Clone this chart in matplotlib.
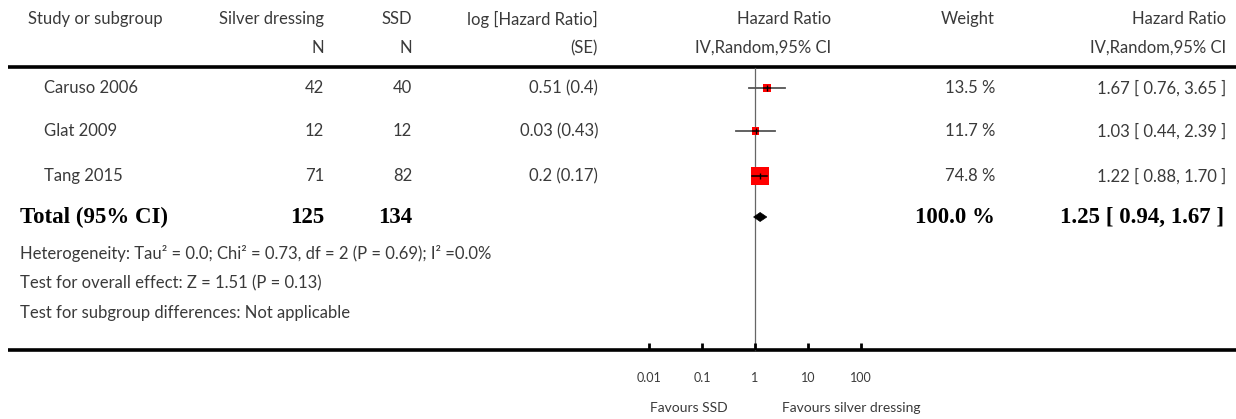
import numpy as np
import matplotlib as mpl
mpl.use("Agg")
import matplotlib.pyplot as plt
import matplotlib.transforms as mtransforms
from matplotlib.patches import Rectangle, Polygon

# data
studies = ["Caruso 2006", "Glat 2009", "Tang 2015"]
n_silver = [42, 12, 71]
n_ssd = [40, 12, 82]
log_hr = ["0.51", "0.03", "0.2"]
log_se = ["0.4", "0.43", "0.17"]
hr = [1.67, 1.03, 1.22]
ci_lo = [0.76, 0.44, 0.88]
ci_hi = [3.65, 2.39, 1.70]
weight = [13.5, 11.7, 74.8]

total_silver = 125
total_ssd = 134
total_hr = 1.25
total_lo = 0.94
total_hi = 1.67
total_weight = 100.0

footnotes = ["Heterogeneity: Tau\u00b2 = 0.0; Chi\u00b2 = 0.73, df = 2 (P = 0.69); I\u00b2 =0.0%",
             "Test for overall effect: Z = 1.51 (P = 0.13)",
             "Test for subgroup differences: Not applicable"]
axis_ticks = [0.01, 0.1, 1, 10, 100]
axis_labels = ["0.01", "0.1", "1", "10", "100"]

# layout (pixels)
W, H = 1236, 419
row_y = [88, 131, 176]
total_y = 217
foot_y = [253, 283, 313]
txt = "#3a3a3a"
sans = "Lato"
serif = "Liberation Serif"
fs = 12
fsb = 16.5

fig = plt.figure(figsize=(W / 100, H / 100), dpi=100)
ax = fig.add_axes([0, 0, 1, 1])
ax.set_xlim(0, W)
ax.set_ylim(H, 0)
ax.axis("off")

# forest axis: 1 at x=755px, 53px per decade
fx0, fx1 = 640, 870
fp = fig.add_axes([fx0 / W, 0, (fx1 - fx0) / W, 1])
fp.set_xscale("log")
fp.set_xlim(10 ** ((fx0 - 755) / 53), 10 ** ((fx1 - 755) / 53))
fp.set_ylim(H, 0)
fp.axis("off")

def t(x, y, s, ha="right", bold=False, size=None):
    if bold:
        ax.text(x, y, s, ha=ha, va="center", fontsize=size or fsb, family=serif,
                fontweight="bold", color="black")
    else:
        ax.text(x, y, s, ha=ha, va="center", fontsize=size or fs, family=sans,
                color=txt)

# header
t(28, 19, "Study or subgroup", ha="left")
t(324, 19, "Silver dressing")
t(324, 48, "N")
t(412, 19, "SSD")
t(412, 48, "N")
t(598, 19, "log [Hazard Ratio]")
t(598, 48, "(SE)")
t(831, 19, "Hazard Ratio")
t(831, 48, "IV,Random,95% CI")
t(995, 19, "Weight")
t(1226, 19, "Hazard Ratio")
t(1226, 48, "IV,Random,95% CI")

ax.plot([8, W], [67, 67], color="black", lw=2.6, solid_capstyle="butt")
ax.plot([8, W], [350, 350], color="black", lw=2.6, solid_capstyle="butt")

# study rows
for i, y in enumerate(row_y):
    t(44, y, studies[i], ha="left")
    t(324, y, str(n_silver[i]))
    t(412, y, str(n_ssd[i]))
    t(598, y, "%s (%s)" % (log_hr[i], log_se[i]))
    t(995, y, "%.1f %%" % weight[i])
    t(1226, y, "%.2f [ %.2f, %.2f ]" % (hr[i], ci_lo[i], ci_hi[i]))

    fp.plot([ci_lo[i], ci_hi[i]], [y, y], color="#555555", lw=1.3, zorder=2)
    side = 2.08 * np.sqrt(weight[i]) / 100  # inches
    tr = fig.dpi_scale_trans + mtransforms.ScaledTranslation(hr[i], y, fp.transData)
    sq = Rectangle((-side / 2, -side / 2), side, side, transform=tr,
                   facecolor="#ff0000", edgecolor="none", zorder=3)
    fp.add_patch(sq)
    inner, = fp.plot([ci_lo[i], ci_hi[i]], [y, y], color="black", lw=1.1, zorder=4)
    inner.set_clip_path(sq)
    fp.plot([hr[i]], [y], marker="|", color="black", markersize=4, mew=1, zorder=5)

# total row
t(20, total_y, "Total (95% CI)", ha="left", bold=True)
t(324, total_y, str(total_silver), bold=True)
t(412, total_y, str(total_ssd), bold=True)
t(995, total_y, "%.1f %%" % total_weight, bold=True)
t(1224, total_y, "%.2f [ %.2f, %.2f ]" % (total_hr, total_lo, total_hi), bold=True)
fp.add_patch(Polygon([(total_lo, total_y), (total_hr, total_y - 4.5),
                      (total_hi, total_y), (total_hr, total_y + 4.5)],
                     closed=True, facecolor="black", edgecolor="black", lw=0.5, zorder=3))

for y, s in zip(foot_y, footnotes):
    t(20, y, s, ha="left", size=12)

# line of no effect and axis
fp.plot([1, 1], [68, 350], color="#666666", lw=0.9, zorder=1)
for v, lab in zip(axis_ticks, axis_labels):
    fp.plot([v, v], [343, 350], color="black", lw=2, solid_capstyle="butt")
    fp.text(v, 378, lab, ha="center", va="center", fontsize=9, family=sans,
            color=txt)

t(728, 408, "Favours SSD", size=10)
t(782, 408, "Favours silver dressing", ha="left", size=10)

fig.savefig("out.png", dpi=100)
